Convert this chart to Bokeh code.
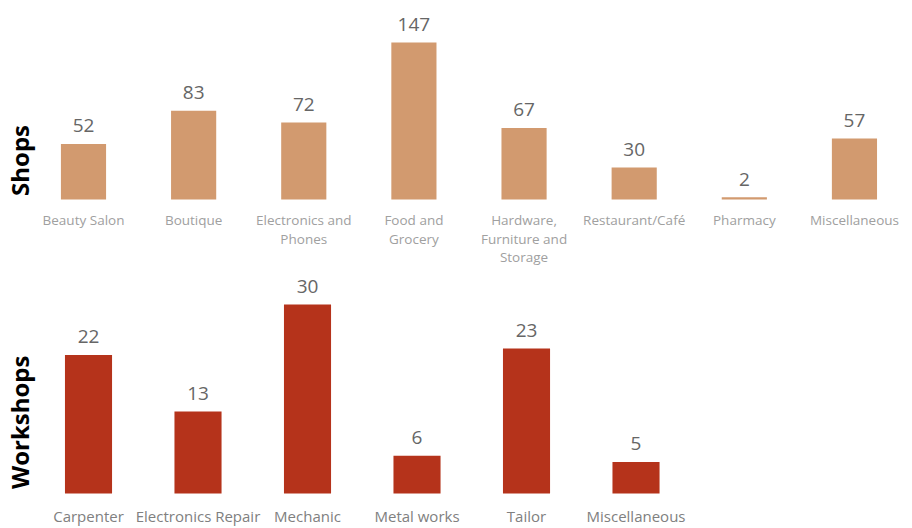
from bokeh.plotting import figure
from bokeh.models import ColumnDataSource, Range1d, Label
from bokeh.layouts import column
from bokeh.core.properties import value
from bokeh.embed import file_html
from bokeh.resources import INLINE

shop_categories = ["Beauty Salon", "Boutique", "Electronics and\nPhones", "Food and\nGrocery",
                   "Hardware,\nFurniture and\nStorage", "Restaurant/Café", "Pharmacy", "Miscellaneous"]
shop_counts = [52, 83, 72, 147, 67, 30, 2, 57]

workshop_categories = ["Carpenter", "Electronics Repair", "Mechanic", "Metal works", "Tailor", "Miscellaneous"]
workshop_counts = [22, 13, 30, 6, 23, 5]

FONT = "Open Sans"


def make_panel(cats, vals, title, color, height, xr, yr, bar_w, tick_size, tick_color,
               tick_offset, line_h, title_y):
    src = ColumnDataSource(dict(pos=list(range(len(cats))), cat=cats, val=vals,
                                lab=[str(v) for v in vals], zero=[0] * len(vals)))
    p = figure(x_range=Range1d(*xr), y_range=Range1d(*yr), width=912, height=height,
               output_backend="svg", toolbar_location=None,
               x_axis_location=None, y_axis_location=None,
               min_border_left=0, min_border_right=0, min_border_top=0, min_border_bottom=0)
    p.vbar(x="pos", top="val", width=bar_w, source=src, fill_color=color, line_color=None)
    # value labels above the bars
    p.text(x="pos", y="val", text="lab", source=src, text_align="center",
           text_baseline="alphabetic", y_offset=-18, text_font=value(FONT),
           text_font_size="19px", text_color="#666666")
    # category labels below the baseline
    p.text(x="pos", y="zero", text="cat", source=src, text_align="center",
           text_baseline="top", y_offset=tick_offset, text_font=value(FONT),
           text_font_size=tick_size, text_color=tick_color, text_line_height=line_h)
    p.xgrid.visible = False
    p.ygrid.visible = False
    p.outline_line_color = None
    lbl = Label(x=19, y=title_y, x_units="screen", y_units="data", text=title, angle=1.5707963,
                text_align="center", text_baseline="middle", text_font=FONT,
                text_font_size="24px", text_font_style="bold", text_color="#000000")
    p.add_layout(lbl)
    return p


top = make_panel(shop_categories, shop_counts, "Shops", "#d29a6f", 270,
                 (-0.7536, 7.527), (-66.5, 186.3), 0.41, "13.5px", "#a0a0a0", 12, 1.02, 36.5)
bottom = make_panel(workshop_categories, workshop_counts, "Workshops", "#b5331b", 258,
                    (-0.8037, 7.525), (-5.56, 35.4), 0.43, "15px", "#808080", 13, 1.2, 11.3)

layout = column(top, bottom, spacing=0)
open("out.html", "w").write(file_html(layout, INLINE))
